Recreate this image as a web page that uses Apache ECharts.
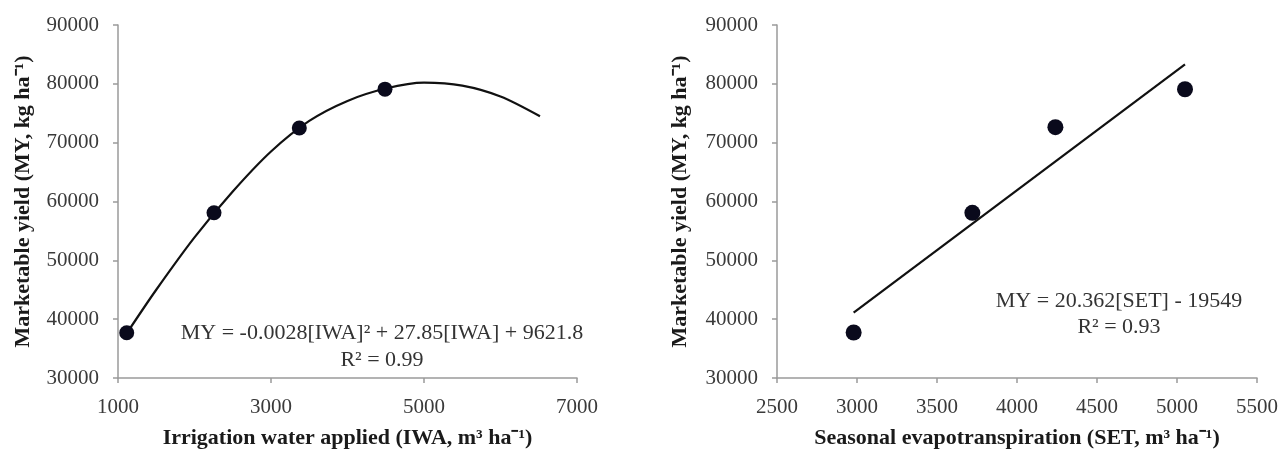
<!DOCTYPE html>
<html>
<head>
<meta charset="utf-8">
<script src="https://cdn.jsdelivr.net/npm/echarts@6/dist/echarts.min.js"></script>
<style>
html,body{margin:0;padding:0;background:#fff;}
#chart{width:1282px;height:454px;}
</style>
</head>
<body>
<div id="chart"></div>
<script>
// Left panel: marketable yield vs irrigation water applied
var iwaPoints = [1114, 2255, 3370, 4490];
var iwaYield = [37700, 58100, 72500, 79100];
// quadratic trendline
var iwaCurveX = [1135, 1500, 2000, 2500, 3000, 3500, 4000, 4500, 5000, 5500, 6000, 6516];
var iwaCurveY = [38000, 45000, 53900, 61700, 68500, 73700, 77100, 79200, 80200, 79700, 77850, 74490];

// Right panel: marketable yield vs seasonal evapotranspiration
var setPoints = [2979, 3721, 4240, 5050];
var setYield = [37730, 58070, 72640, 79080];
// linear trendline end points
var setLineX = [2979, 5050];
var setLineY = [41100, 83300];

// tick settings
var yTicks = {min: 30000, max: 90000, interval: 10000};
var iwaTicks = {min: 1000, max: 7000, interval: 2000};
var setTicks = {min: 2500, max: 5500, interval: 500};

var eqLeft = 'MY = -0.0028[IWA]² + 27.85[IWA] + 9621.8\nR² = 0.99';
var eqRight = 'MY = 20.362[SET] - 19549\nR² = 0.93';
var xNameLeft = 'Irrigation water applied (IWA, m³ ha⁻¹)';
var xNameRight = 'Seasonal evapotranspiration (SET, m³ ha⁻¹)';
var yName = 'Marketable yield (MY, kg ha⁻¹)';

function zip(a, b) { return a.map(function (v, i) { return [v, b[i]]; }); }

var FONT = '"Liberation Serif", "Times New Roman", serif';
var axisLineStyle = {color: '#9a9a9a', width: 1.5};
function plain(v) { return String(v); }

function xAxisCfg(idx, ticks, name) {
  return {
    type: 'value', gridIndex: idx, min: ticks.min, max: ticks.max, interval: ticks.interval,
    name: name, nameLocation: 'middle', nameGap: 49,
    nameTextStyle: {fontFamily: FONT, fontWeight: 'bold', fontSize: 22, color: '#1a1a1a'},
    axisLine: {show: true, lineStyle: axisLineStyle},
    axisTick: {show: true, inside: false, length: 5, lineStyle: axisLineStyle},
    axisLabel: {fontFamily: FONT, fontSize: 21, color: '#3a3a3a', margin: 19, formatter: plain},
    splitLine: {show: false}
  };
}
function yAxisCfg(idx, gap) {
  return {
    type: 'value', gridIndex: idx, min: yTicks.min, max: yTicks.max, interval: yTicks.interval,
    name: yName, nameLocation: 'middle', nameGap: gap, nameRotate: 90,
    nameTextStyle: {fontFamily: FONT, fontWeight: 'bold', fontSize: 22, color: '#1a1a1a'},
    axisLine: {show: true, lineStyle: axisLineStyle},
    axisTick: {show: true, inside: false, length: 5, lineStyle: axisLineStyle},
    axisLabel: {fontFamily: FONT, fontSize: 21, color: '#3a3a3a', margin: 19, formatter: plain},
    splitLine: {show: false}
  };
}

var chart = echarts.init(document.getElementById('chart'), null, {renderer: 'canvas'});
chart.setOption({
  backgroundColor: '#ffffff',
  animation: false,
  grid: [
    {left: 118, top: 25, width: 459, height: 357},
    {left: 777, top: 25, width: 480, height: 357}
  ],
  xAxis: [xAxisCfg(0, iwaTicks, xNameLeft), xAxisCfg(1, setTicks, xNameRight)],
  yAxis: [yAxisCfg(0, 84), yAxisCfg(1, 86)],
  series: [
    {
      type: 'line', xAxisIndex: 0, yAxisIndex: 0, data: zip(iwaCurveX, iwaCurveY),
      smooth: 0.3, showSymbol: false, symbol: 'none',
      lineStyle: {color: '#111', width: 2.2}, z: 2
    },
    {
      type: 'scatter', xAxisIndex: 0, yAxisIndex: 0, data: zip(iwaPoints, iwaYield),
      symbolSize: 15, itemStyle: {color: '#0a0a1c', opacity: 1}, z: 3
    },
    {
      type: 'line', xAxisIndex: 1, yAxisIndex: 1, data: zip(setLineX, setLineY),
      showSymbol: false, symbol: 'none',
      lineStyle: {color: '#111', width: 2.2}, z: 2
    },
    {
      type: 'scatter', xAxisIndex: 1, yAxisIndex: 1, data: zip(setPoints, setYield),
      symbolSize: 16, itemStyle: {color: '#0a0a1c', opacity: 1}, z: 3
    }
  ],
  graphic: [
    {
      type: 'text', x: 382, y: 347,
      style: {text: eqLeft, fontFamily: FONT, fontSize: 22, fill: '#333', align: 'center', verticalAlign: 'middle', lineHeight: 27}
    },
    {
      type: 'text', x: 1119, y: 314,
      style: {text: eqRight, fontFamily: FONT, fontSize: 22, fill: '#333', align: 'center', verticalAlign: 'middle', lineHeight: 26}
    }
  ]
});
</script>
</body>
</html>
